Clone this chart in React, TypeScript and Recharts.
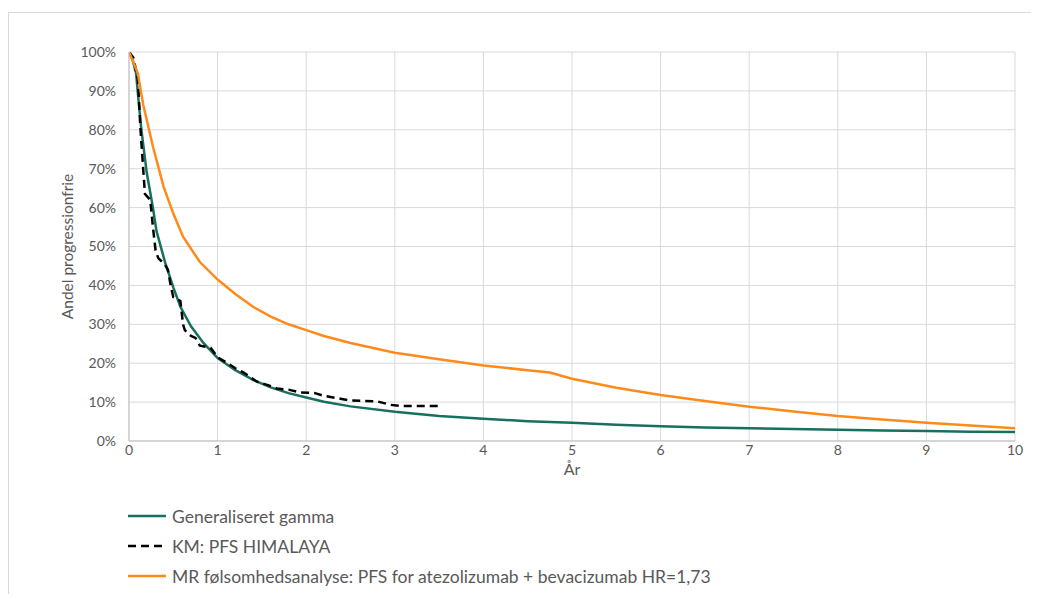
import React from 'react';
import { LineChart, Line, XAxis, YAxis, CartesianGrid, Legend } from 'recharts';

// Generaliseret gamma
const ggTimes = [0, 0.04, 0.08, 0.11, 0.14, 0.2, 0.27, 0.31, 0.41, 0.5, 0.58, 0.7, 0.84, 1.0, 1.2, 1.4, 1.6, 1.8, 2.0, 2.2, 2.5, 3.0, 3.5, 4.0, 4.5, 5.0, 5.5, 6.0, 6.5, 7.0, 7.5, 8.0, 8.5, 9.0, 9.5, 10];
const ggSurv = [100, 98, 94.5, 87, 80, 69, 60, 54, 45.7, 39.5, 34.5, 29.5, 25.2, 21.3, 18.2, 15.7, 13.8, 12.3, 11.2, 10.1, 8.9, 7.5, 6.4, 5.7, 5.1, 4.7, 4.2, 3.8, 3.5, 3.3, 3.1, 2.9, 2.7, 2.6, 2.4, 2.3];

// KM: PFS HIMALAYA
const kmTimes = [0, 0.05, 0.1, 0.13, 0.16, 0.18, 0.24, 0.27, 0.3, 0.33, 0.4, 0.44, 0.47, 0.5, 0.58, 0.61, 0.63, 0.7, 0.75, 0.8, 0.92, 1.0, 1.1, 1.2, 1.3, 1.44, 1.55, 1.67, 1.8, 1.93, 2.1, 2.2, 2.4, 2.5, 2.8, 2.95, 3.06, 3.5];
const kmSurv = [100, 98.5, 93, 80, 70, 63.5, 62, 55, 49, 47, 45.5, 44, 40, 37, 36, 30, 28.5, 27, 26.5, 24.5, 24, 21.5, 20.2, 18.7, 17.5, 15.3, 14.5, 13.5, 13.2, 12.5, 12.3, 11.6, 10.8, 10.4, 10.2, 9.3, 9, 9];

// MR følsomhedsanalyse
const mrTimes = [0, 0.05, 0.1, 0.13, 0.16, 0.27, 0.39, 0.5, 0.61, 0.8, 1.0, 1.2, 1.4, 1.6, 1.8, 2.0, 2.2, 2.5, 3.0, 3.5, 4.0, 4.5, 4.75, 5.0, 5.5, 6.0, 6.5, 7.0, 7.5, 8.0, 8.5, 9.0, 9.5, 10];
const mrSurv = [100, 97.3, 94.5, 90.5, 86.5, 75.7, 65.4, 58.5, 52.5, 46, 41.5, 37.8, 34.5, 32, 30, 28.5, 27, 25.2, 22.7, 21, 19.4, 18.2, 17.6, 16.0, 13.7, 11.8, 10.3, 8.8, 7.6, 6.4, 5.5, 4.7, 4.0, 3.3];

const xTicks = [0, 1, 2, 3, 4, 5, 6, 7, 8, 9, 10];
const yTicks = [0, 10, 20, 30, 40, 50, 60, 70, 80, 90, 100];

const toData = (ts: number[], vs: number[]) => ts.map((t, i) => ({ t, v: vs[i] }));

const series = [
  { name: 'Generaliseret gamma', data: toData(ggTimes, ggSurv), color: '#17705E', dash: undefined as string | undefined },
  { name: 'KM: PFS HIMALAYA', data: toData(kmTimes, kmSurv), color: '#000000', dash: '8 5' },
  { name: 'MR følsomhedsanalyse: PFS for atezolizumab + bevacizumab HR=1,73', data: toData(mrTimes, mrSurv), color: '#FF8A1C', dash: undefined },
];

const FONT = 'Lato, "Liberation Sans", sans-serif';

const LegendContent = () => (
  <div style={{ fontFamily: FONT, fontSize: 17.5, color: '#595959' }}>
    {series.map((s) => (
      <div key={s.name} style={{ display: 'flex', alignItems: 'center', height: 30 }}>
        <svg width={38} height={10} style={{ marginRight: 6 }}>
          <line x1={0} y1={5} x2={38} y2={5} stroke={s.color} strokeWidth={2.5} strokeDasharray={s.dash} />
        </svg>
        <span>{s.name}</span>
      </div>
    ))}
  </div>
);

export default function App() {
  return (
    <div
      style={{
        position: 'relative',
        top: 4,
        width: 1030,
        height: 586,
        borderTop: '1px solid #d9d9d9',
        borderLeft: '1px solid #d9d9d9',
        boxSizing: 'border-box',
        background: '#fff',
      }}
    >
      <LineChart width={1029} height={585} margin={{ top: 39, right: 23, left: 40, bottom: 117 }}>
        <CartesianGrid stroke="#d9d9d9" strokeWidth={1} />
        <XAxis
          dataKey="t"
          type="number"
          domain={[0, 10]}
          ticks={xTicks}
          allowDataOverflow
          height={40}
          tickLine={false}
          tickSize={0}
          tickMargin={4}
          axisLine={{ stroke: '#bfbfbf' }}
          tick={{ fill: '#595959', fontSize: 14, fontFamily: FONT }}
          label={{ value: 'År', position: 'insideBottom', offset: 6, fill: '#595959', fontSize: 16, fontFamily: FONT }}
        />
        <YAxis
          dataKey="v"
          type="number"
          domain={[0, 100]}
          ticks={yTicks}
          allowDataOverflow
          width={80}
          tickLine={false}
          tickSize={0}
          tickMargin={13}
          axisLine={{ stroke: '#bfbfbf' }}
          tickFormatter={(v: number) => `${v}%`}
          tick={{ fill: '#595959', fontSize: 14, fontFamily: FONT }}
          label={{
            value: 'Andel progressionfrie',
            angle: -90,
            position: 'insideLeft',
            offset: 18,
            fill: '#595959',
            fontSize: 15.5,
            fontFamily: FONT,
            style: { textAnchor: 'middle' },
          }}
        />
        {series.map((s) => (
          <Line
            key={s.name}
            data={s.data}
            dataKey="v"
            name={s.name}
            type="linear"
            stroke={s.color}
            strokeWidth={2.5}
            strokeDasharray={s.dash}
            dot={false}
            activeDot={false}
            isAnimationActive={false}
          />
        ))}
        <Legend
          layout="vertical"
          align="center"
          verticalAlign="middle"
          content={LegendContent}
          wrapperStyle={{ left: 119, top: 488, width: 750 }}
        />
      </LineChart>
    </div>
  );
}
